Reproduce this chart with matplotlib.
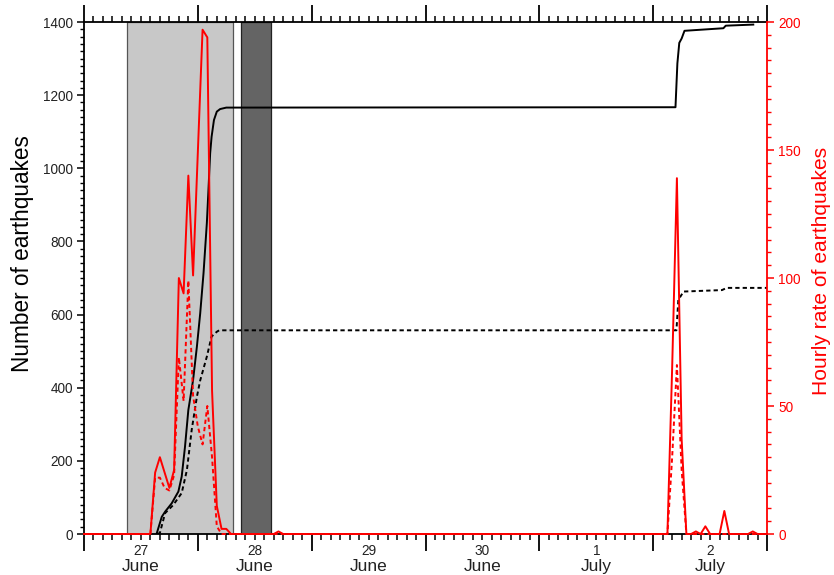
import numpy as np
import matplotlib
matplotlib.use("Agg")
import matplotlib.pyplot as plt
from matplotlib.ticker import MultipleLocator, FuncFormatter, NullFormatter

plt.rcParams['font.family'] = ['Liberation Sans', 'DejaVu Sans']

# --- time axis: hours since 27 June 00:00 ---
day_numbers = ["27", "28", "29", "30", "1", "2"]
day_months = ["June", "June", "June", "June", "July", "July"]

# shaded periods (hours)
light_span = (9.0, 31.5)
dark_span = (33.0, 39.5)

# cumulative number of earthquakes (left axis)
cum_all_h = [15.3, 16.4, 17.1, 18.5, 19.9, 20.6, 21.3, 22.0, 23.0, 23.8, 24.5, 25.2,
             25.9, 26.2, 26.6, 26.9, 27.4, 28.0, 28.7, 30.0, 124.7, 125.1, 125.5,
             126.0, 126.6, 134.8, 135.3, 141.1]
cum_all_n = [0, 47, 61, 84, 116, 157, 239, 339, 421, 512, 603, 713,
             850, 930, 1041, 1086, 1132, 1155, 1162, 1166, 1167, 1287, 1343,
             1355, 1376, 1383, 1390, 1393]

cum_sub_h = [15.5, 16.0, 17.1, 18.8, 20.6, 21.7, 22.7, 23.8, 24.5, 25.9, 26.9, 28.0,
             28.5, 124.9, 125.3, 126.4, 134.5, 135.5, 144.0]
cum_sub_n = [0, 3, 57, 79, 112, 175, 284, 375, 420, 485, 540, 553,
             557, 557, 640, 663, 667, 673, 673]

# hourly rate of earthquakes (right axis)
rate_all_h = [0, 14, 15, 16, 17, 18, 19, 20, 21, 22, 23, 24, 25, 26, 27, 28, 29, 30, 31,
              40, 41, 42, 123, 124, 125, 126, 127, 128, 129, 130, 131, 132, 134, 135,
              136, 140, 141, 142, 144]
rate_all_v = [0, 0, 24, 30, 24, 18, 25, 100, 94, 140, 101, 149, 197, 194, 56, 11, 2, 2, 0,
              0, 1, 0, 0, 65, 139, 37, 0, 0, 1, 0, 3, 0, 0, 9,
              0, 0, 1, 0, 0]

rate_sub_h = [0, 14, 15, 16, 17, 18, 19, 20, 21, 22, 23, 24, 25, 26, 27, 28, 29,
              123, 124, 125, 126, 127, 144]
rate_sub_v = [0, 0, 22, 22, 18, 17, 23, 69, 52, 99, 54, 42, 35, 50, 30, 3, 0,
              0, 30, 66, 25, 0, 0]

fig = plt.figure(figsize=(8.34, 5.75), dpi=100)
ax = fig.add_axes([0.1007, 0.0713, 0.8190, 0.8904])

ax.axvspan(*light_span, facecolor='#c8c8c8', edgecolor='#555555', lw=0.9, zorder=0)
ax.axvspan(*dark_span, facecolor='#646464', edgecolor='#222222', lw=0.9, zorder=0)

dash = (0, (2.2, 1.6))
ax.plot(cum_all_h, cum_all_n, color='black', lw=1.4, zorder=3)
ax.plot(cum_sub_h, cum_sub_n, color='black', lw=1.4, ls=dash, zorder=3)

ax.set_xlim(0, 144)
ax.set_ylim(0, 1400)
ax.xaxis.set_major_locator(MultipleLocator(24))
ax.xaxis.set_minor_locator(MultipleLocator(2))
ax.xaxis.set_major_formatter(NullFormatter())


def day_label(x, pos):
    h = int(round(x))
    if h % 24 == 12 and 0 <= h // 24 < len(day_numbers):
        return day_numbers[h // 24]
    return ""


ax.xaxis.set_minor_formatter(FuncFormatter(day_label))
ax.tick_params(axis='x', which='major', direction='out', length=12, width=1.3,
               top=True, bottom=True)
ax.tick_params(axis='x', which='minor', direction='out', length=4.5, width=1.1,
               top=True, bottom=True, pad=2.5, labelsize=9.8, labelcolor='#222222')

# month names under the day numbers
for i, m in enumerate(day_months):
    ax.annotate(m, xy=(24 * i + 12, 0), xycoords=('data', 'axes fraction'),
                xytext=(0, -32), textcoords='offset pixels', ha='center', va='center',
                fontsize=12.5, color='#222222', annotation_clip=False)

ax.yaxis.set_major_locator(MultipleLocator(200))
ax.yaxis.set_minor_locator(MultipleLocator(20))
ax.tick_params(axis='y', which='major', direction='out', length=5, width=1.1,
               labelsize=9.8, labelcolor='#222222', pad=3)
ax.tick_params(axis='y', which='minor', direction='out', length=3, width=1.0)
ax.set_ylabel("Number of earthquakes", fontsize=16.3)
ax.yaxis.set_label_coords(-0.0732, 0.547)
for s in ['left', 'bottom', 'top']:
    ax.spines[s].set_linewidth(1.3)
ax.spines['right'].set_visible(False)

ax2 = ax.twinx()
ax2.plot(rate_all_h, rate_all_v, color='red', lw=1.4, clip_on=False, zorder=4)
ax2.plot(rate_sub_h, rate_sub_v, color='red', lw=1.4, ls=dash, clip_on=False, zorder=4)
ax2.set_ylim(0, 200)
ax2.yaxis.set_major_locator(MultipleLocator(50))
ax2.yaxis.set_minor_locator(MultipleLocator(5))
ax2.tick_params(axis='y', which='major', direction='out', length=5, width=1.1,
                colors='red', labelsize=9.8, pad=3)
ax2.tick_params(axis='y', which='minor', direction='out', length=3, width=1.0,
                colors='red')
for s in ['left', 'bottom', 'top']:
    ax2.spines[s].set_visible(False)
ax2.spines['right'].set_color('red')
ax2.spines['right'].set_linewidth(1.3)
ax2.set_ylabel("Hourly rate of earthquakes", fontsize=15.1, color='red')
ax2.yaxis.set_label_coords(1.066, 0.514)

fig.savefig("out.png", dpi=100)
